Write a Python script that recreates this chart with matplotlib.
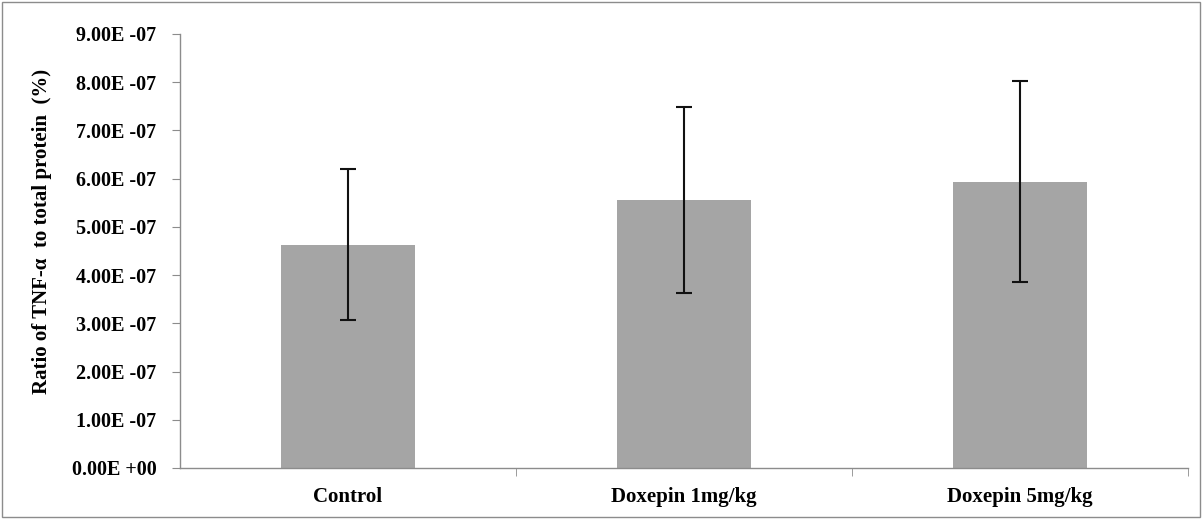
import matplotlib
matplotlib.use('Agg')
import matplotlib.pyplot as plt
from matplotlib.patches import Rectangle
from matplotlib.ticker import FixedLocator, FuncFormatter
import numpy as np

groups = ['Control', 'Doxepin 1mg/kg', 'Doxepin 5mg/kg']
means = [4.63e-7, 5.56e-7, 5.94e-7]
errs = [1.57e-7, 1.93e-7, 2.09e-7]
ylabel = 'Ratio of TNF-\u03b1  to total protein  (%)'

plt.rcParams['font.family'] = ['Liberation Serif', 'DejaVu Serif']
plt.rcParams['font.weight'] = 'bold'

fig = plt.figure(figsize=(12.02, 5.19), dpi=100)
ax = fig.add_axes([0.1497, 0.0983, 0.8386, 0.8362])
fig.patches.append(Rectangle((0.002, 0.004), 0.996, 0.992, transform=fig.transFigure,
                             fill=False, edgecolor='#8c8c8c', linewidth=1))

x = np.arange(len(groups))
ax.bar(x, means, width=0.40, color='#a5a5a5', zorder=2)
ax.errorbar(x, means, yerr=errs, fmt='none', ecolor='#111111', elinewidth=1.5,
            capsize=6, capthick=1.5, zorder=3)


def sci(v, p):
    if abs(v) < 1e-12:
        return '0.00E +00'
    return '%.2fE -07' % (v / 1e-7)


ax.set_xlim(-0.5, 2.5)
ax.set_ylim(0, 9e-7)
ax.set_yticks(np.arange(0, 9.01e-7, 1e-7))
ax.yaxis.set_major_formatter(FuncFormatter(sci))
ax.set_xticks(x)
ax.set_xticklabels(groups)
ax.xaxis.set_minor_locator(FixedLocator([0.5, 1.5, 2.5]))
ax.tick_params(axis='x', which='major', length=0, pad=14, labelsize=15)
ax.tick_params(axis='x', which='minor', length=6, color='#8c8c8c', direction='out')
ax.tick_params(axis='y', length=6, color='#8c8c8c', direction='out', labelsize=14.5, pad=11)
for lab in ax.get_xticklabels() + ax.get_yticklabels():
    lab.set_fontweight('bold')

for s in ['top', 'right']:
    ax.spines[s].set_visible(False)
for s in ['left', 'bottom']:
    ax.spines[s].set_color('#8c8c8c')
    ax.spines[s].set_linewidth(1)

ax.set_ylabel(ylabel, fontsize=15, fontweight='bold')
ax.yaxis.set_label_coords(-0.127, 0.545)

fig.savefig('out.png', dpi=100)
